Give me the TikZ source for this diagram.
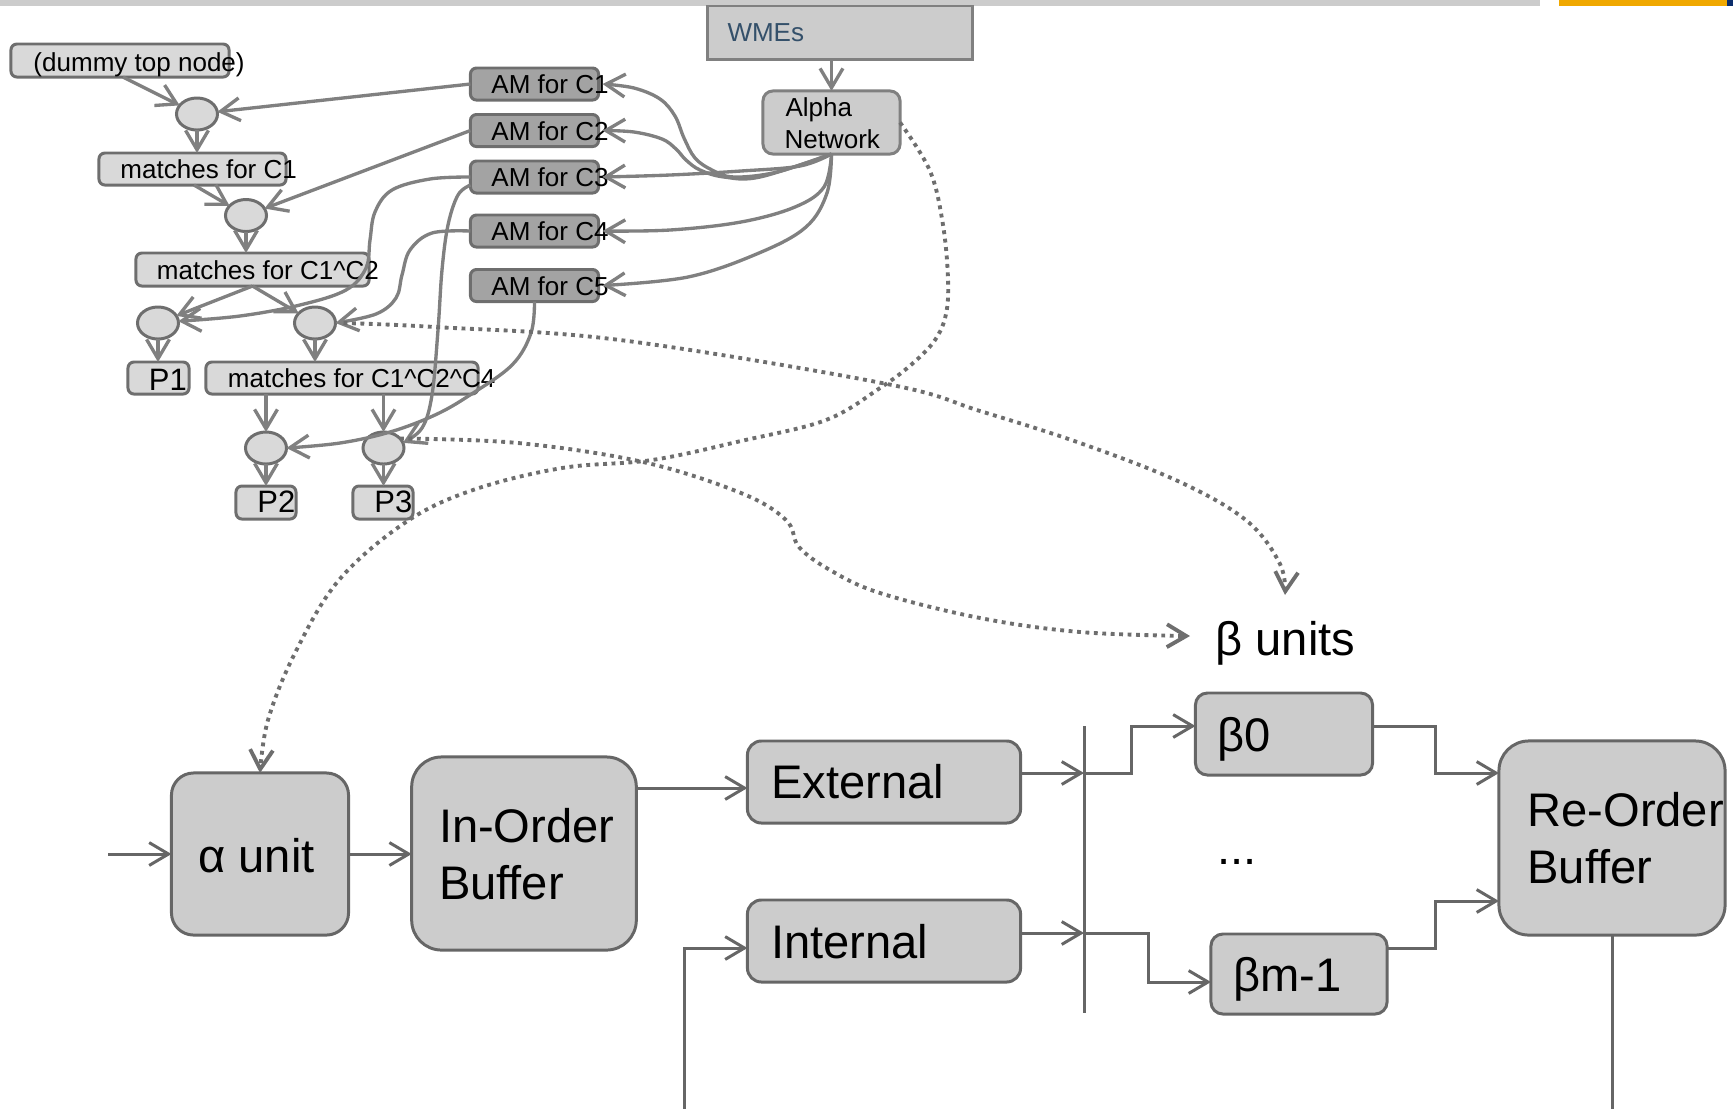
\documentclass[tikz,border=0pt]{standalone}
\usepackage{fontspec}
\setmainfont{Liberation Sans}
\usetikzlibrary{arrows.meta,calc,shapes.geometric}

\definecolor{netline}{HTML}{808080}
\definecolor{boxline}{HTML}{6E6E6E}
\definecolor{lightfill}{HTML}{D9D9D9}
\definecolor{amfill}{HTML}{A3A3A3}
\definecolor{midfill}{HTML}{CCCCCC}
\definecolor{pipecol}{HTML}{666666}
\definecolor{dotcol}{HTML}{6E6E6E}
\definecolor{wmetext}{HTML}{34506A}
\definecolor{topgray}{HTML}{CCCCCC}
\definecolor{toporange}{HTML}{F0A800}
\definecolor{topnavy}{HTML}{0B2D6B}

\tikzset{
  smallbox/.style={draw=boxline, fill=lightfill, rounded corners=1.7pt, inner sep=0pt, outer sep=0pt, minimum height=0.32cm},
  ambox/.style={smallbox, fill=amfill},
  joinnode/.style={ellipse, draw=boxline, fill=lightfill, inner sep=0pt, outer sep=0pt, minimum width=0.41cm, minimum height=0.32cm},
  smalltxt/.style={anchor=base west, inner sep=0pt, font=\fontsize{7.4}{9}\selectfont},
  ptxt/.style={smalltxt, font=\fontsize{8.8}{10}\selectfont},
  bigbox/.style={draw=pipecol, fill=midfill, inner sep=0pt, outer sep=0pt},
  bigtxt/.style={anchor=base west, inner sep=0pt, font=\fontsize{13.4}{16}\selectfont},
  netarrow/.style={draw=netline, line width=0.95pt, ->},
  pipearrow/.style={draw=pipecol, ->},
  dotarrow/.style={draw=dotcol, ->, line width=1.1pt, dash pattern=on 1.1pt off 1.3pt},
}

\begin{document}
\begin{tikzpicture}[x=0.01cm, y=-0.01cm, line width=0.85pt,
  >={Straight Barb[length=5.5pt,width=6.5pt]}]
\useasboundingbox (0,0) rectangle (1733,1108);

% header strip
\fill[topgray] (0,0) rectangle (1540,6);
\fill[toporange] (1559,0) rectangle (1727,6);
\fill[topnavy] (1727,0) rectangle (1733,6);

% ---------- Rete network ----------
\node[smallbox, minimum width=2.18cm, minimum height=0.33cm] (dummy) at (120,60.5) {};
\node[joinnode] (c1) at (197,114) {};
\node[smallbox, minimum width=1.87cm] (m1) at (192.5,169) {};
\node[joinnode] (c2) at (246,215.5) {};
\node[smallbox, minimum width=2.33cm, minimum height=0.33cm] (m12) at (252.5,269.5) {};
\node[joinnode] (c3) at (158,323) {};
\node[joinnode] (c4) at (315,323) {};
\node[smallbox, minimum width=0.61cm] (p1) at (158.5,378) {};
\node[smallbox, minimum width=2.72cm] (m124) at (342,378) {};
\node[joinnode] (c5) at (266,448) {};
\node[joinnode] (c6) at (383.5,448) {};
\node[smallbox, minimum width=0.60cm, minimum height=0.33cm] (p2) at (266,502.5) {};
\node[smallbox, minimum width=0.60cm, minimum height=0.33cm] (p3) at (383,502.5) {};

\node[ambox, minimum width=1.28cm] (am1) at (534.5,84) {};
\node[ambox, minimum width=1.28cm] (am2) at (534.5,130.5) {};
\node[ambox, minimum width=1.28cm] (am3) at (534.5,177) {};
\node[ambox, minimum width=1.28cm] (am4) at (534.5,231) {};
\node[ambox, minimum width=1.28cm] (am5) at (534.5,285.5) {};

\node[draw=netline, fill=midfill, inner sep=0pt, outer sep=0pt, minimum width=2.65cm, minimum height=0.53cm] (wmes) at (840,32.5) {};
\node[draw=netline, fill=midfill, rounded corners=2.8pt, inner sep=0pt, outer sep=0pt, minimum width=1.37cm, minimum height=0.63cm] (alpha) at (831.5,122.5) {};

% labels
\node[smalltxt] (dummy-t) at (32,71) {(dummy top node)};
\node[smalltxt] (m1-t) at (119,178.5) {matches for C1};
\node[smalltxt] (m12-t) at (155.5,279.5) {matches for C1\^{}C2};
\node[smalltxt] (m124-t) at (226.5,387) {matches for C1\^{}C2\^{}C4};
\node[ptxt] (p1-t) at (147.5,390) {P1};
\node[ptxt] (p2-t) at (256,512) {P2};
\node[ptxt] (p3-t) at (373,512) {P3};
\node[smalltxt] (am1-t) at (490,93.5) {AM for C1};
\node[smalltxt] (am2-t) at (490,140) {AM for C2};
\node[smalltxt] (am3-t) at (490,186.5) {AM for C3};
\node[smalltxt] (am4-t) at (490,240.5) {AM for C4};
\node[smalltxt] (am5-t) at (490,295) {AM for C5};
\node[smalltxt, text=wmetext] (wmes-t) at (726,41.7) {WMEs};
\node[smalltxt] (alpha-t1) at (784,116.7) {Alpha};
\node[smalltxt] (alpha-t2) at (783,148.3) {Network};

% straight network connectors
\draw[netarrow] ($(dummy.south)+(3,0)$) -- (c1);
\draw[netarrow] (am1.west) -- (c1);
\draw[netarrow] (c1.south) -- (c1.south |- m1.north);
\draw[netarrow] ($(m1.south)+(1.5,0)$) -- (c2);
\draw[netarrow] (am2.west) -- (c2);
\draw[netarrow] (c2.south) -- (c2.south |- m12.north);
\draw[netarrow] (m12.south) -- (c3);
\draw[netarrow] (m12.south) -- (c4);
\draw[netarrow] (c3.south) -- (c3.south |- p1.north);
\draw[netarrow] (c4.south) -- (c4.south |- m124.north);
\draw[netarrow] (c5.north |- m124.south) -- (c5.north);
\draw[netarrow] (c6.north |- m124.south) -- (c6.north);
\draw[netarrow] (c5.south) -- (c5.south |- p2.north);
\draw[netarrow] (c6.south) -- (c6.south |- p3.north);
\draw[netarrow] (alpha.north |- wmes.south) -- (alpha.north);

% curved network connectors
\draw[netarrow] plot[smooth, tension=0.6] coordinates {(am3.west) (430,179) (392,190) (375,212) (370,240) (366,268) (346,290) (300,305) (240,316) (c3.5)};
\draw[netarrow] plot[smooth, tension=0.6] coordinates {($(am3.south west)+(0,-8)$) (458,195) (448,225) (442,270) (438,330) (432,395) (422,428) (c6.15)};
\draw[netarrow] plot[smooth, tension=0.6] coordinates {(am4.west) (432,233) (410,250) (402,275) (396,298) (376,314) (c4.east)};
\draw[netarrow] plot[smooth, tension=0.6] coordinates {(am5.south) (531,333) (512,365) (470,395) (435,415) (390,432) (340,443) (c5.east)};

\draw[netarrow] plot[smooth, tension=0.6] coordinates {(alpha.south) (777,172) (734,177) (712,170) (695,158) (684,138) (675,116) (660,99) (634,88) ($(am1.east)+(4,0)$)};
\draw[netarrow] plot[smooth, tension=0.6] coordinates {(alpha.south) (760,177) (724,177) (700,170) (686,160) (676,149) (662,139) (634,132) ($(am2.east)+(4,0)$)};
\draw[netarrow] plot[smooth, tension=0.6] coordinates {(alpha.south) (800,166) (741,171) (670,175) ($(am3.east)+(4,0)$)};
\draw[netarrow] plot[smooth, tension=0.6] coordinates {(alpha.south) (824,187) (795,207) (741,222) (670,230) ($(am4.east)+(4,0)$)};
\draw[netarrow] plot[smooth, tension=0.6] coordinates {(alpha.south) (827,193) (806,227) (759,253) (688,277) ($(am5.east)+(4,0)$)};

% ---------- pipeline ----------
\node[bigbox, rounded corners=6.3pt, minimum width=1.77cm, minimum height=1.62cm] (aunit) at (260,854) {};
\node[bigbox, rounded corners=8.5pt, minimum width=2.245cm, minimum height=1.93cm] (iob) at (524,853.5) {};
\node[bigbox, rounded corners=4pt, minimum width=2.73cm, minimum height=0.82cm] (ext) at (884,782) {};
\node[bigbox, rounded corners=4pt, minimum width=2.73cm, minimum height=0.82cm] (int) at (884,941) {};
\node[bigbox, rounded corners=3.4pt, minimum width=1.77cm, minimum height=0.82cm] (b0) at (1284,734) {};
\node[bigbox, rounded corners=3.4pt, minimum width=1.76cm, minimum height=0.80cm] (bm) at (1299,974) {};
\node[bigbox, rounded corners=8.5pt, minimum width=2.26cm, minimum height=1.94cm] (rob) at (1612,838) {};

\node[bigtxt] (aunit-t) at (197,872) {α unit};
\node[bigtxt] (iob-t1) at (437.5,842.7) {In-Order};
\node[bigtxt] (iob-t2) at (437.5,899) {Buffer};
\node[bigtxt] (ext-t) at (770,798.3) {External};
\node[bigtxt] (int-t) at (769.5,958.3) {Internal};
\node[bigtxt] (b0-t) at (1216,751.7) {β0};
\node[bigtxt] (dots-t) at (1216,864) {...};
\node[bigtxt] (bm-t) at (1232,991.7) {βm-1};
\node[bigtxt] (rob-t1) at (1526,826.7) {Re-Order};
\node[bigtxt] (rob-t2) at (1526,883.3) {Buffer};
\node[bigtxt] (bunits) at (1214,655) {β units};

\coordinate (inp) at (108,854);
\draw[pipearrow] (inp) -- (aunit.west);
\draw[pipearrow] (aunit.east) -- (aunit.east -| iob.west);
\coordinate (x1) at ($(ext.west)+(0,6)$);
\draw[pipearrow] (x1 -| iob.east) -- (x1);

\coordinate (bartop) at (1084,726);
\coordinate (barbot) at (1084,1013);
\draw[pipecol] (bartop) -- (barbot);
\coordinate (e1) at ($(ext.east)+(0,-9)$);
\coordinate (i1) at ($(int.east)+(0,-8)$);
\draw[pipearrow] (e1) -- (e1 -| bartop);
\draw[pipearrow] (i1) -- (i1 -| bartop);
\draw[pipearrow] (e1 -| bartop) -- ++(47,0) |- ($(b0.west)+(0,-8)$);
\draw[pipearrow] (i1 -| bartop) -- ++(64,0) |- ($(bm.west)+(0,8)$);
\draw[pipearrow] ($(b0.east)+(0,-8)$) -- ++(63,0) |- ($(rob.west)+(0,-65)$);
\draw[pipearrow] ($(bm.east)+(0,-26)$) -- ++(48.5,0) |- ($(rob.west)+(0,63)$);
% feedback loop, its lower run lies just below the page edge
\draw[pipearrow] (rob.south) -- ++(0,177) -| ($(int.west)+(-63,7)$) -- ($(int.west)+(0,7)$);

% ---------- mapping of the network onto the units ----------
\coordinate (btip) at (1190,636);
\coordinate (ctip) at (1285,595);
\draw[dotarrow] plot[smooth, tension=0.6] coordinates {(alpha.east) (930,171) (943,225) (948,279) (946,314) (935,340) (912,364) (880,388) (826,420) (741,441) (652,460) (562,468) (473,490) (406,522) (339,580) (295,653) (268,720) (aunit.north)};
\draw[dotarrow] plot[smooth, tension=0.6] coordinates {(c6.30) (518,443) (643,462) (741,493) (786,520) (799,547) (830,570) (880,593) (980,618) (1080,632) (btip)};
\draw[dotarrow] plot[smooth, tension=0.6] coordinates {($(c4.east)+(8,0)$) (435,327) (620,340) (887,384) (980,411) (1080,443) (1180,482) (1247,521) (1280,564) (ctip)};
\end{tikzpicture}
\end{document}
